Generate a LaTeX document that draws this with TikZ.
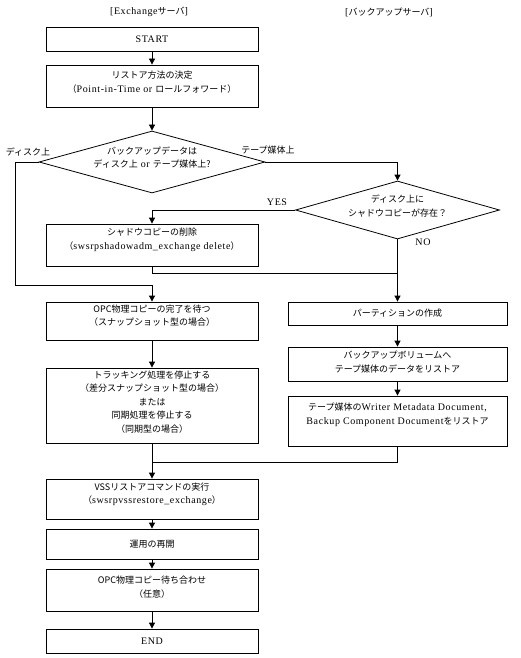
\documentclass[tikz,border=0pt]{standalone}
\usepackage{fontspec}
\setmainfont{Liberation Serif}[LetterSpace=6]
\newfontfamily\jpfam{Noto Sans CJK JP}
\newcommand\jp{\jpfam\fontsize{9}{13.5}\selectfont}
\usetikzlibrary{arrows.meta,shapes.geometric}
\begin{document}
\begin{tikzpicture}[x=1pt,y=-1pt,
  font=\fontsize{10}{13.5}\selectfont,
  line width=0.8pt,
  arr/.style={-{Triangle[width=6pt,length=6pt]}},
  box/.style={draw, rectangle, minimum width=212pt, inner sep=0pt},
  rbox/.style={draw, rectangle, minimum width=219pt, inner sep=0pt},
  dia/.style={draw, diamond, inner sep=0pt},
  txt/.style={align=center, inner sep=0pt}]
\useasboundingbox (0,0) rectangle (521,658);
% headers
\node[txt] (h1) at (149,12) {[Exchange{\jp サーバ}]};
\node[txt] (h2) at (389,12) {[{\jp バックアップサーバ}]};
% left column
\node[box, minimum height=24pt] (start) at (152,39) {START};
\node[box, minimum height=42pt] (method) at (152,86) {};
\node[txt] (methodt) at (152,82) {{\jp リストア方法の決定}\\{\jp （}Point-in-Time or {\jp ロールフォワード）}};
\node[dia, minimum width=226pt, minimum height=62pt] (d1) at (152,162) {};
\node[txt] (d1t) at (152,157.5) {{\jp バックアップデータは}\\{\jp ディスク上} or {\jp テープ媒体上?}};
\node[txt] (lab1) at (28,152) {\jp ディスク上};
\node[txt] (lab2) at (268,150) {\jp テープ媒体上};
\node[dia, minimum width=204pt, minimum height=58pt] (d2) at (397.5,210) {};
\node[txt] (d2t) at (397.5,206) {{\jp ディスク上に}\\{\jp シャドウコピーが存在？}};
\node[txt] (yes) at (277,202) {YES};
\node[txt] (no) at (423,242) {NO};
\node[box, minimum height=42pt] (shadow) at (152,245) {};
\node[txt] (shadowt) at (152,240) {{\jp シャドウコピーの削除}\\{\jp （}swsrpshadowadm\_exchange delete{\jp ）}};
\node[box, minimum height=38pt] (opc) at (152,321) {};
\node[txt] (opct) at (152,315.5) {{\jp OPC物理コピーの完了を待つ}\\{\jp （スナップショット型の場合）}};
\node[box, minimum height=75pt] (track) at (152,405.5) {};
\node[txt] (trackt) at (152,402) {{\jp トラッキング処理を停止する}\\{\jp （差分スナップショット型の場合）}\\{\jp または}\\{\jp 同期処理を停止する}\\{\jp （同期型の場合）}};
\node[box, minimum height=40pt] (vss) at (152,499) {};
\node[txt] (vsst) at (152,494.5) {{\jp VSSリストアコマンドの実行}\\{\jp （}swsrpvssrestore\_exchange{\jp ）}};
\node[box, minimum height=30pt] (resume) at (152,544) {\jp 運用の再開};
\node[box, minimum height=42pt] (wait) at (152,590) {};
\node[txt] (waitt) at (152,587) {{\jp OPC物理コピー待ち合わせ}\\{\jp （任意）}};
\node[box, minimum height=24pt] (end) at (152,641) {END};
% right column
\node[rbox, minimum height=23pt] (part) at (397.5,313.5) {\jp パーティションの作成};
\node[rbox, minimum height=34pt] (vol) at (397.5,364) {};
\node[txt] (volt) at (397.5,362) {{\jp バックアップボリュームへ}\\{\jp テープ媒体のデータをリストア}};
\node[rbox, minimum height=50pt] (tape) at (397.5,421) {};
\node[txt] (tapet) at (397.5,415) {{\jp テープ媒体の}Writer Metadata Document,\\Backup Component Document{\jp をリストア}};
% junction coordinates
\coordinate (L) at (15,285);
\coordinate (j1) at (152,285);
\coordinate (j2) at (397.5,273);
\coordinate (j3) at (152,462);
% connectors
\draw[arr] (start) -- (method);
\draw[arr] (method) -- (d1.north);
\draw (d1.west) -| (L) -- (j1);
\draw[arr] (j1) -- (opc.north);
\draw[arr] (d1.east) -| (d2.north);
\draw[arr] (d2.west) -| (shadow.north);
\draw (shadow.south) |- (j2);
\draw[arr] (d2.south) -- (part.north);
\draw[arr] (part) -- (vol);
\draw[arr] (vol) -- (tape);
\draw[arr] (opc) -- (track);
\draw (track.south) -- (j3);
\draw (tape.south) |- (j3);
\draw[arr] (j3) -- (vss.north);
\draw[arr] (vss) -- (resume);
\draw[arr] (resume) -- (wait);
\draw[arr] (wait) -- (end);
\end{tikzpicture}
\end{document}
